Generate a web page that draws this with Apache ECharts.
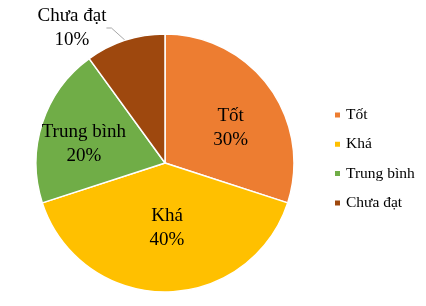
<!DOCTYPE html>
<html><head><meta charset="utf-8">
<script src="https://cdn.jsdelivr.net/npm/echarts@6/dist/echarts.min.js"></script>
<style>html,body{margin:0;padding:0;background:#fff}#c{width:426px;height:306px}</style>
</head><body><div id="c"></div>
<script>
const categories = ['Tốt', 'Khá', 'Trung bình', 'Chưa đạt'];
const values = [30, 40, 20, 10];
const colors = ['#ED7D31', '#FFC000', '#70AD47', '#9E480E'];
const labelOffsets = [[11, 5], [2, -2], [-17, 2], [0, 0]];

const chart = echarts.init(document.getElementById('c'));
chart.setOption({
  animation: false,
  color: colors,
  legend: {
    orient: 'vertical', left: 333, top: 107, padding: 0,
    icon: 'rect', itemWidth: 7, itemHeight: 7, itemGap: 13.3,
    textStyle: { fontFamily: 'Liberation Serif', fontSize: 15.5, color: '#000' },
    data: categories
  },
  series: [{
    type: 'pie',
    center: [165, 163], radius: 129,
    startAngle: 90, clockwise: true,
    itemStyle: { borderColor: '#fff', borderWidth: 1.5 },
    label: {
      fontFamily: 'Liberation Serif', fontSize: 19, color: '#000', lineHeight: 24,
      formatter: p => p.name + '\n' + p.value + '%'
    },
    labelLine: { lineStyle: { color: '#A6A6A6', width: 1 }, length: 16, length2: 5, smooth: false },
    labelLayout: p => p.dataIndex === 3 ? { x: 72, y: 28, align: 'center', verticalAlign: 'middle' } : {},
    data: categories.map((n, i) => ({
      name: n, value: values[i],
      label: i === 3 ? { position: 'outside', align: 'center' } : { position: 'inside', offset: labelOffsets[i], align: 'center' },
      labelLine: { show: i === 3 }
    }))
  }]
});
</script></body></html>
